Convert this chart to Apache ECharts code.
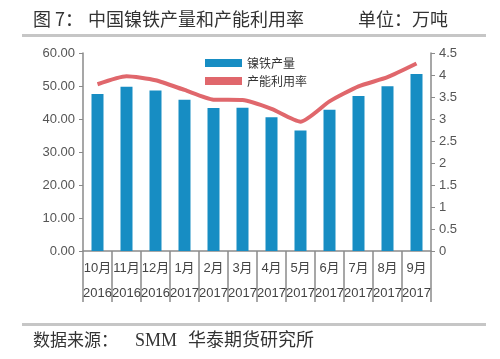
<!DOCTYPE html>
<html><head><meta charset="utf-8">
<script src="https://cdn.jsdelivr.net/npm/echarts@6/dist/echarts.min.js"></script>
<style>html,body{margin:0;padding:0;background:#fff}#c{width:500px;height:359px}</style>
</head><body><div id="c"></div>
<script>
var months = ['10月','11月','12月','1月','2月','3月','4月','5月','6月','7月','8月','9月'];
var years = ['2016','2016','2016','2017','2017','2017','2017','2017','2017','2017','2017','2017'];
var output = [47.6, 49.8, 48.6, 45.8, 43.3, 43.4, 40.5, 36.5, 42.8, 47.0, 49.9, 53.6];
var utilization = [3.79, 3.97, 3.88, 3.66, 3.44, 3.43, 3.23, 2.94, 3.40, 3.74, 3.95, 4.26];
var leftTicks = {min: 0, max: 60, interval: 10};
var rightTicks = {min: 0, max: 4.5, interval: 0.5};
var categories = months.map(function(m, i){ return m + '\n' + years[i]; });

var chart = echarts.init(document.getElementById('c'), null, {renderer: 'canvas'});
var axisColor = '#8a8a8a';
var cjk = '"Noto Sans CJK SC", sans-serif';
var lat = '"Liberation Sans", "Noto Sans CJK SC", sans-serif';
chart.setOption({
  animation: false,
  backgroundColor: '#ffffff',
  graphic: [
    {type: 'text', left: 33, top: 10, style: {text: '图 7：', font: '18px ' + cjk, fill: '#333'}},
    {type: 'text', left: 88, top: 10, style: {text: '中国镍铁产量和产能利用率', font: '18px ' + cjk, fill: '#333'}},
    {type: 'text', left: 358, top: 10, style: {text: '单位：万吨', font: '18px ' + cjk, fill: '#333'}},
    {type: 'rect', shape: {x: 22, y: 34, width: 464, height: 3}, style: {fill: '#c6c6c6'}},
    {type: 'rect', shape: {x: 22, y: 323, width: 464, height: 3}, style: {fill: '#c6c6c6'}},
    {type: 'text', left: 33, top: 331, style: {text: '数据来源：', font: '17px ' + cjk, fill: '#333'}},
    {type: 'text', left: 135, top: 332, style: {text: 'SMM', font: '18px "Liberation Serif", serif', fill: '#333'}},
    {type: 'text', left: 188, top: 330, style: {text: '华泰期货研究所', font: '18px ' + cjk, fill: '#333'}}
  ],
  legend: {
    orient: 'vertical', left: 200, top: 52, itemGap: 6,
    itemWidth: 37, itemHeight: 8,
    textStyle: {fontFamily: cjk, fontSize: 12, color: '#333'},
    data: [
      {name: '镍铁产量', icon: 'rect'},
      {name: '产能利用率', icon: 'rect', itemStyle: {color: '#e0676c'}}
    ]
  },
  grid: {left: 83, right: 69, top: 53, bottom: 108},
  xAxis: {
    type: 'category', data: categories, boundaryGap: true,
    axisLine: {lineStyle: {color: axisColor, width: 1.5}},
    axisTick: {show: true, length: 51, lineStyle: {color: axisColor, width: 1.5}},
    axisLabel: {interval: 0, margin: 5, lineHeight: 25, fontFamily: lat, fontSize: 13, color: '#444'}
  },
  yAxis: [
    {type: 'value', min: leftTicks.min, max: leftTicks.max, interval: leftTicks.interval,
     splitLine: {show: false},
     axisLine: {show: true, lineStyle: {color: axisColor, width: 1.5}},
     axisTick: {show: true, length: 4, lineStyle: {color: axisColor}},
     axisLabel: {margin: 8, fontFamily: lat, fontSize: 13, color: '#555', formatter: function(v){ return v.toFixed(2); }}},
    {type: 'value', min: rightTicks.min, max: rightTicks.max, interval: rightTicks.interval,
     splitLine: {show: false},
     axisLine: {show: true, lineStyle: {color: axisColor, width: 1.5}},
     axisTick: {show: true, length: 4, lineStyle: {color: axisColor}},
     axisLabel: {margin: 8, fontFamily: lat, fontSize: 13, color: '#555'}}
  ],
  series: [
    {name: '镍铁产量', type: 'bar', data: output, barWidth: 12, yAxisIndex: 0,
     itemStyle: {color: '#178dc3'}},
    {name: '产能利用率', type: 'line', data: utilization, yAxisIndex: 1, smooth: 0.2,
     showSymbol: false, symbol: 'none',
     lineStyle: {color: '#e0676c', width: 4}, itemStyle: {color: '#e0676c'}}
  ]
});
</script></body></html>
